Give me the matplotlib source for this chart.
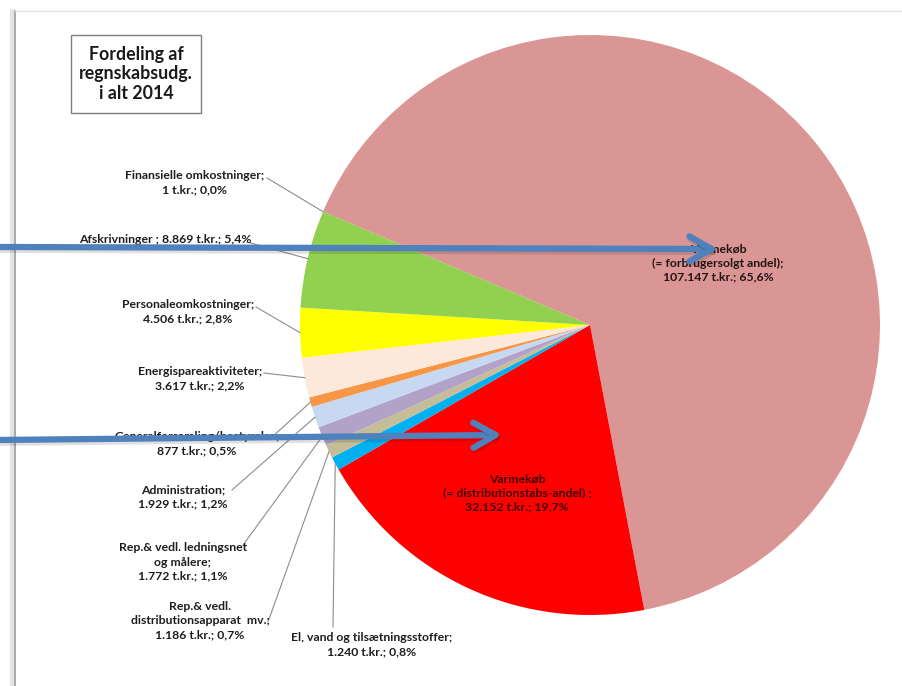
import numpy as np
import matplotlib.pyplot as plt
from matplotlib import patheffects as pe
from matplotlib.patches import Rectangle

W, H = 903, 686

# Cost split for 2014, in t.kr.
names = [
    "Varmekøb\n(= forbrugersolgt andel);",
    "Varmekøb\n(= distributionstabs-andel) ;",
    "El, vand og tilsætningsstoffer;",
    "Rep.& vedl.\ndistributionsapparat  mv.;",
    "Rep.& vedl. ledningsnet\nog målere;",
    "Administration;",
    "Generalforsamling/bestyrelse;",
    "Energispareaktiviteter;",
    "Personaleomkostninger;",
    "Afskrivninger ;",
    "Finansielle omkostninger;",
]
values = [107147, 32152, 1240, 1186, 1772, 1929, 877, 3617, 4506, 8869, 1]
colors = ["#D99694", "#FF0000", "#00B0F0", "#C4BD97", "#B3A2C7", "#C6D9F1",
          "#F79646", "#FDE9D9", "#FFFF00", "#92D050", "#4F81BD"]
title = "Fordeling af\nregnskabsudg.\ni alt 2014"

plt.rcParams["font.family"] = ["Lato", "DejaVu Sans"]

total = sum(values)


def label_text(i):
    v = f"{values[i]:,}".replace(",", ".")
    p = f"{100 * values[i] / total:.1f}".replace(".", ",")
    sep = " " if names[i].startswith("Afskrivninger") else "\n"
    return f"{names[i]}{sep}{v} t.kr.; {p}%"


fig = plt.figure(figsize=(W / 100, H / 100), dpi=100)
ax = fig.add_axes([0, 0, 1, 1])

cx, cy, R = 590, H - 325, 290
wedges, _ = ax.pie(values, colors=colors, startangle=157, counterclock=False,
                   center=(cx, cy), radius=R, frame=True,
                   wedgeprops=dict(linewidth=0))
ax.set_xlim(0, W)
ax.set_ylim(0, H)
ax.set_aspect("equal")
ax.axis("off")

# labels inside the two big slices
inner = {0: (718, 263), 1: (517, 493)}
inner_col = {0: "#221414", 1: "#3d0000"}
for i, (x, y) in inner.items():
    ax.text(x, H - y, label_text(i), ha="center", va="center", fontsize=8.8,
            fontweight="bold", color=inner_col[i], linespacing=1.35)

# outside labels: text centre, then where the leader line starts
outside = {
    10: (195, 183, 267, 178),
    9: (165, 240, 247, 242),
    8: (188, 312, 256, 307),
    7: (200, 379, 264, 373),
    6: (197, 444, 272, 437),
    5: (183, 497, 232, 490),
    4: (183, 562, 243, 545),
    3: (200, 621, 268, 622),
    2: (372, 645, 333, 627),
}
for i, (tx, ty, lx, ly) in outside.items():
    w = wedges[i]
    ang = np.radians((w.theta1 + w.theta2) / 2)
    ex, ey = cx + R * np.cos(ang), cy + R * np.sin(ang)
    ax.plot([lx, ex], [H - ly, ey], color="#8c8c8c", lw=0.8, zorder=3)
    ax.text(tx, H - ty, label_text(i), ha="center", va="center", fontsize=8.8,
            fontweight="bold", color="#1e1e1e", linespacing=1.35, zorder=4)

# title box
ax.add_patch(Rectangle((71, H - 113), 130, 78, fill=False, edgecolor="#7f7f7f",
                       lw=1.0, zorder=4))
ax.text(136, H - 74, title, ha="center", va="center", fontsize=12.8,
        fontweight="bold", color="#1a1a1a", linespacing=1.2, zorder=5)

# blue pointer arrows
shadow = [pe.SimpleLineShadow(offset=(1, -2), shadow_color="k", alpha=0.12),
          pe.Normal()]
for (x0, y0), (x1, y1) in [((-5, 247), (718, 249)), ((-5, 440), (502, 435))]:
    ax.annotate("", xy=(x1, H - y1), xytext=(x0, H - y0),
                arrowprops=dict(arrowstyle="->,head_length=0.8,head_width=0.45",
                                mutation_scale=20, lw=4.5, color="#4F81BD",
                                shrinkA=0, shrinkB=0,
                                path_effects=shadow), zorder=6)

# thin page frame along the top and left
ax.plot([15, 15], [0, H - 11], color="#9a9a9a", lw=1.2, zorder=2)
ax.plot([12, 12], [0, H - 11], color="#e4e4e4", lw=3, zorder=1)
ax.plot([15, W], [H - 11, H - 11], color="#e0e0e0", lw=1.0, zorder=2)

fig.savefig("out.png", dpi=100, facecolor="white")
